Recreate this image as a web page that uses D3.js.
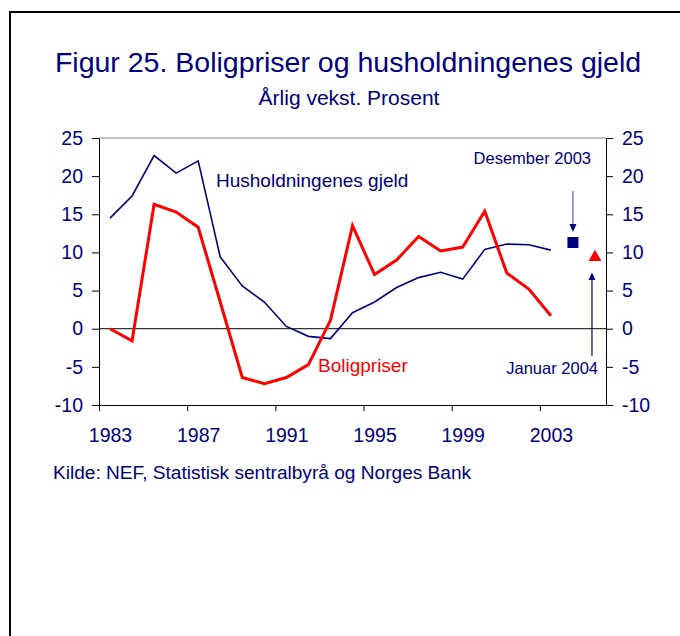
<!DOCTYPE html>
<meta charset="utf-8">
<style>
    body { margin: 0; background: #fff; }
    text { font-family: "Liberation Sans", Arial, sans-serif; fill: #000080; }
    .axis path, .axis line { stroke: #000; }
    .axis text { font-size: 19.5px; fill: #000080; }
</style>
<body>
<script src="https://cdn.jsdelivr.net/npm/d3@7"></script>
<script>

    var years = d3.range(1983, 2006);       // category slots incl. 2004/2005 for the markers
    var dataYears = d3.range(1983, 2004);

    var gjeld = [14.5, 17.4, 22.7, 20.4, 22.0, 9.4, 5.6, 3.5, 0.3, -1.0, -1.3,
                 2.1, 3.5, 5.4, 6.7, 7.4, 6.5, 10.4, 11.1, 11.0, 10.3];
    var boligpriser = [0.0, -1.6, 16.3, 15.3, 13.3, 3.5, -6.4, -7.2, -6.4, -4.7, 1.1,
                       13.5, 7.1, 9.0, 12.1, 10.2, 10.7, 15.4, 7.3, 5.2, 1.7];

    var gjeldDes2003 = 11.3;       // square, plotted in 2004 slot
    var prisJan2004 = 9.5;         // triangle, plotted in 2005 slot

    var yTicks = [-10, -5, 0, 5, 10, 15, 20, 25];
    var xTicks = [1983, 1987, 1991, 1995, 1999, 2003];

    var W = 680, H = 636;
    var pLeft = 99, pRight = 606, pTop = 138, pBottom = 405;

    var svg = d3.select("body").append("svg")
            .attr("width", W)
            .attr("height", H);

    // frame (only top and left edges visible)
    svg.append("path")
            .attr("d", "M10," + H + "V12H" + W)
            .attr("fill", "none")
            .attr("stroke", "#000")
            .attr("stroke-width", 2);

    var x = d3.scaleBand().domain(years).range([pLeft, pRight]);
    var xb = d3.scaleLinear().domain([1983, 2006]).range([pLeft, pRight]);
    var y = d3.scaleLinear().domain([-10, 25]).range([pBottom, pTop]);

    svg.append("text")
            .attr("x", 348).attr("y", 72)
            .attr("text-anchor", "middle")
            .style("font-size", "28.5px")
            .text("Figur 25. Boligpriser og husholdningenes gjeld");

    svg.append("text")
            .attr("x", 349).attr("y", 105)
            .attr("text-anchor", "middle")
            .style("font-size", "21px")
            .text("Årlig vekst. Prosent");

    // top border of plot area
    svg.append("line")
            .attr("x1", pLeft).attr("x2", pRight)
            .attr("y1", pTop).attr("y2", pTop)
            .attr("stroke", "#808080");

    svg.append("g")
            .attr("class", "axis")
            .attr("transform", "translate(" + pLeft + ",0)")
            .call(d3.axisLeft(y).tickValues(yTicks).tickFormat(String)
                .tickSize(7).tickSizeOuter(0).tickPadding(9));

    svg.append("g")
            .attr("class", "axis")
            .attr("transform", "translate(" + pRight + ",0)")
            .call(d3.axisRight(y).tickValues(yTicks).tickFormat(String)
                .tickSize(7).tickSizeOuter(0).tickPadding(9));

    var xAxis = svg.append("g")
            .attr("class", "axis")
            .attr("transform", "translate(0," + pBottom + ")")
            .call(d3.axisBottom(xb).tickValues(xTicks).tickFormat(String)
                .tickSize(6).tickSizeOuter(0).tickPadding(17));
    xAxis.selectAll("text").attr("x", x.bandwidth() / 2);

    // zero line
    svg.append("line")
            .attr("x1", pLeft).attr("x2", pRight)
            .attr("y1", y(0)).attr("y2", y(0))
            .attr("stroke", "#000");

    var line = d3.line()
            .x(function(d, i) { return x(dataYears[i]) + x.bandwidth() / 2; })
            .y(function(d) { return y(d); });

    svg.append("path")
            .datum(gjeld)
            .attr("d", line)
            .attr("fill", "none")
            .attr("stroke", "#000080")
            .attr("stroke-width", 1.6);

    svg.append("path")
            .datum(boligpriser)
            .attr("d", line)
            .attr("fill", "none")
            .attr("stroke", "#ff0000")
            .attr("stroke-width", 3);

    // markers
    var sx = x(2004) + x.bandwidth() / 2,
        tx = x(2005) + x.bandwidth() / 2;

    svg.append("path")
            .attr("transform", "translate(" + sx + "," + y(gjeldDes2003) + ")")
            .attr("d", d3.symbol().type(d3.symbolSquare).size(121))
            .attr("fill", "#000080");

    svg.append("path")
            .attr("transform", "translate(" + tx + "," + (y(prisJan2004) + 1) + ")")
            .attr("d", d3.symbol().type(d3.symbolTriangle).size(72))
            .attr("fill", "#ff0000");

    // arrows
    svg.append("line")
            .attr("x1", sx).attr("x2", sx)
            .attr("y1", 191).attr("y2", 226)
            .attr("stroke", "#7a7ad0")
            .attr("stroke-width", 1.5);
    svg.append("path")
            .attr("d", "M" + (sx - 3.5) + ",224L" + (sx + 3.5) + ",224L" + sx + ",232Z")
            .attr("fill", "#000080");

    svg.append("line")
            .attr("x1", tx - 3).attr("x2", tx - 3)
            .attr("y1", 356).attr("y2", 278)
            .attr("stroke", "#000080")
            .attr("stroke-width", 1.2);
    svg.append("path")
            .attr("d", "M" + (tx - 6.5) + ",280L" + (tx + 0.5) + ",280L" + (tx - 3) + ",272.5Z")
            .attr("fill", "#000080");

    // labels
    svg.append("text")
            .attr("x", 216).attr("y", 187)
            .style("font-size", "19px")
            .text("Husholdningenes gjeld");

    svg.append("text")
            .attr("x", 318).attr("y", 372)
            .style("font-size", "19px")
            .style("fill", "#ff0000")
            .text("Boligpriser");

    svg.append("text")
            .attr("x", 591).attr("y", 164)
            .attr("text-anchor", "end")
            .style("font-size", "16.5px")
            .text("Desember 2003");

    svg.append("text")
            .attr("x", 598).attr("y", 374)
            .attr("text-anchor", "end")
            .style("font-size", "16.5px")
            .text("Januar 2004");

    svg.append("text")
            .attr("x", 53).attr("y", 479)
            .style("font-size", "19.1px")
            .text("Kilde: NEF, Statistisk sentralbyrå og Norges Bank");

</script>
</body>
